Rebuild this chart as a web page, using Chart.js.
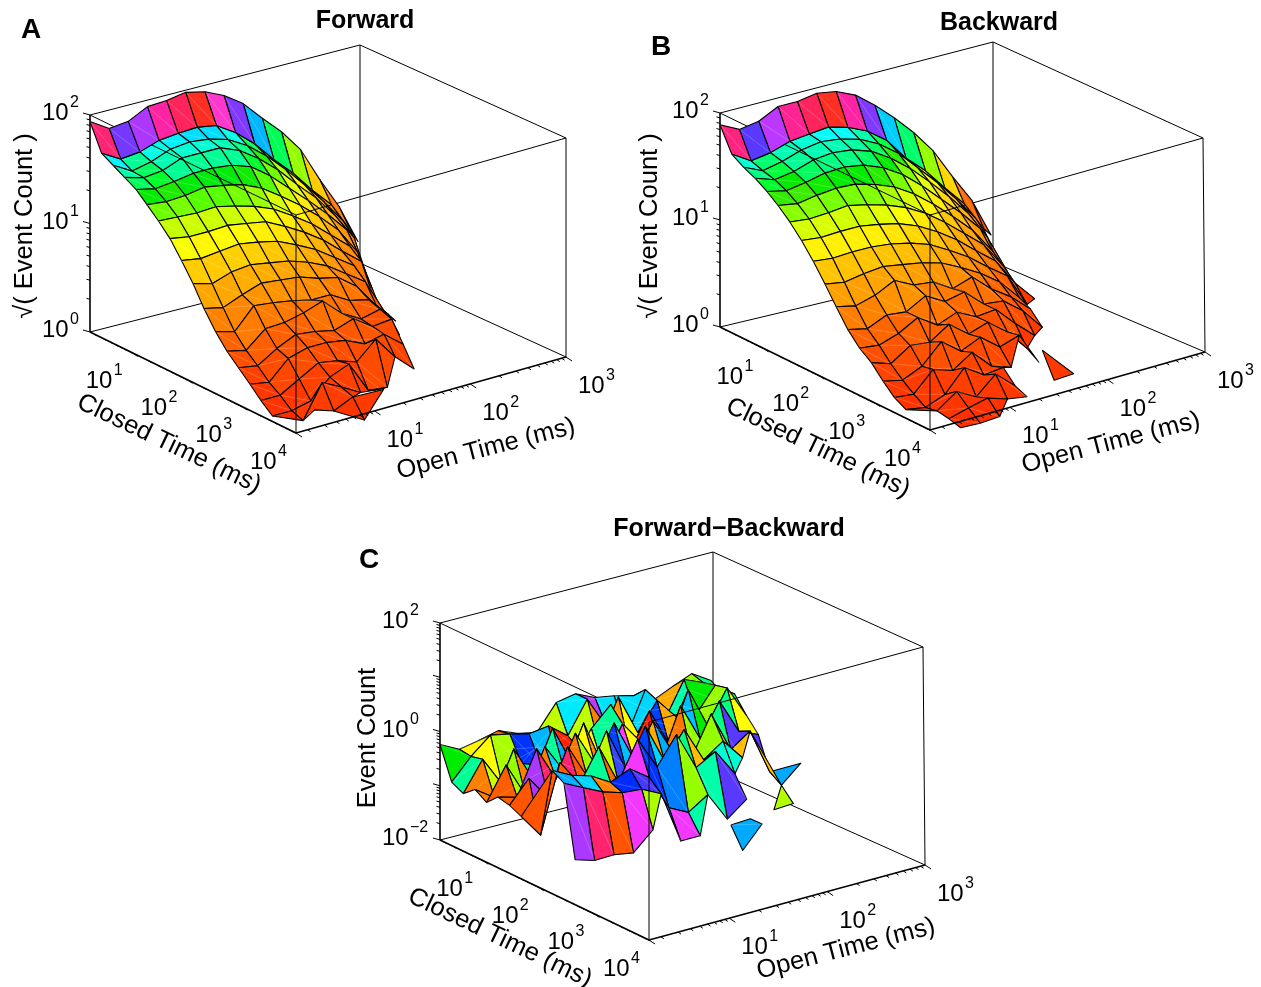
<!DOCTYPE html>
<html>
<head>
<meta charset="utf-8">
<style>
  html,body{margin:0;padding:0;background:#fff;}
  body{position:relative;width:1261px;height:987px;overflow:hidden;}
  canvas{position:absolute;}
</style>
<script src="https://cdn.jsdelivr.net/npm/chart.js@4"></script>
</head>
<body>
<canvas id="panelA" width="630" height="500" style="left:0;top:0"></canvas>
<canvas id="panelB" width="631" height="500" style="left:630px;top:0"></canvas>
<canvas id="panelC" width="700" height="487" style="left:340px;top:500px"></canvas>
<script>
// bin centres, log10 of ms
const closedBins = [.24,.45,.66,.87,1.08,1.28,1.49,1.70,1.91,2.12,2.32,2.53,2.74,2.95,3.16,3.36,3.57,3.78,3.99,4.20];
const openBins = [.18,.38,.58,.78,.98,1.18,1.38,1.58,1.78,1.98,2.18,2.38,2.58,2.78,2.98,3.18];
const n = null;

// log10 of sqrt(count), rows = closed bins, columns = open bins
const forwardValues = [
  [1.94,1.83,1.85,1.94,1.95,1.98,1.94,1.86,1.74,1.56,1.39,1.18,.86,.57,.20],
  [1.70,1.60,1.62,1.68,1.70,1.71,1.68,1.57,1.42,1.23,1.06,.86,.68,.40,n],
  [1.64,1.54,1.58,1.65,1.67,1.65,1.60,1.50,1.36,1.19,1.00,.80,.58,.14,n],
  [1.58,1.53,1.55,1.62,1.62,1.62,1.55,1.43,1.28,1.10,.93,.72,.47,n,n],
  [1.52,1.48,1.50,1.53,1.53,1.51,1.45,1.32,1.16,1.00,.83,.64,.20,n,n],
  [1.43,1.41,1.42,1.45,1.42,1.38,1.30,1.18,1.05,.90,.73,.48,n,n,n],
  [1.33,1.32,1.31,1.32,1.28,1.23,1.16,1.05,.93,.78,.63,.20,n,n,n],
  [1.22,1.19,1.19,1.20,1.17,1.14,1.05,.95,.83,.68,.54,.05,n,n,n],
  [1.07,1.04,1.06,1.08,1.05,1.01,.93,.84,.72,.60,.27,n,n,n,n],
  [.91,.86,.92,.94,.91,.88,.82,.74,.62,.50,.18,n,n,n,n],
  [.73,.69,.76,.82,.80,.78,.72,.68,.55,.33,.14,n,n,n,n],
  [.57,.52,.71,.69,.66,.62,.62,.52,.48,.30,n,n,n,n,n],
  [.44,.40,.55,.56,.60,.66,.50,.40,.44,.16,n,n,n,n,n],
  [.34,.31,.42,.50,.48,.44,.50,.38,.40,n,n,n,n,n,n],
  [.24,.21,.38,.43,.43,.40,.32,.36,.22,n,n,n,n,n,n],
  [.14,.14,.24,.34,.31,.25,.41,.20,.04,n,n,n,n,n,n],
  [.05,.05,.09,.26,.33,.04,.02,n,n,n,n,n,n,n,n],
  [n,.01,.31,.22,.12,.10,n,n,n,n,n,n,n,n,n],
  [n,.16,.10,.18,n,n,n,n,n,n,n,n,n,n,n],
  [n,n,n,.02,.25,n,n,n,n,n,n,n,n,n,n]
];
const backwardValues = [
  [1.89,1.80,1.83,1.92,1.92,1.95,1.92,1.84,1.70,1.54,1.36,1.15,.87,.61,.25],
  [1.67,1.56,1.59,1.65,1.67,1.69,1.64,1.56,1.43,1.22,1.06,.86,.67,.40,n],
  [1.60,1.52,1.56,1.62,1.65,1.63,1.58,1.49,1.36,1.18,1.00,.80,.58,.20,n],
  [1.55,1.49,1.52,1.58,1.60,1.58,1.52,1.41,1.27,1.10,.92,.72,.45,.10,n],
  [1.48,1.44,1.47,1.51,1.52,1.49,1.42,1.31,1.16,.99,.82,.63,.22,n,n],
  [1.40,1.37,1.40,1.42,1.41,1.36,1.29,1.18,1.04,.88,.71,.48,.18,n,n],
  [1.30,1.28,1.29,1.31,1.27,1.22,1.15,1.05,.92,.77,.62,.38,.03,n,n],
  [1.18,1.16,1.17,1.17,1.14,1.10,1.03,.93,.81,.66,.52,.27,.08,n,n],
  [1.04,1.02,1.03,1.03,1.01,.97,.91,.81,.70,.56,.43,.12,n,n,n],
  [.88,.85,.88,.90,.87,.84,.79,.70,.60,.47,.28,n,n,n,n],
  [.72,.68,.73,.82,.73,.71,.60,.66,.50,.38,.22,n,n,n,n],
  [.56,.52,.60,.58,.68,.58,.62,.46,.44,.30,.10,n,n,n,n],
  [.44,.42,.48,.58,.46,.53,.44,.46,.28,.12,n,n,n,n,n],
  [.36,.30,.42,.40,.52,.38,.44,.30,.10,n,n,n,n,n,n],
  [.24,.20,.28,.46,.32,.40,.26,.32,.02,n,n,n,n,n,n],
  [.14,.12,.30,.24,.36,.18,.12,n,n,n,n,n,n,n,n],
  [.08,.05,.12,.32,.20,.22,n,.28,n,n,n,n,n,n,n],
  [n,.07,.20,.10,.26,.10,n,.05,.06,n,n,n,n,n,n],
  [n,.05,.10,.14,.08,.05,n,n,n,n,n,n,n,n,n],
  [n,.02,.01,.02,n,n,n,n,n,n,n,n,n,n,n]
];
const differenceValues = [
  [-.24,-.42,-.35,-.26,-.40,-.48,-.02,.05,-.11,-.17,-.26,-.44,-.28,-.13,-.35],
  [-.83,-.45,-.15,-.22,-.31,-.26,-.53,.05,-.55,-.85,-.05,-.70,-.05,-.20,-.50],
  [-.94,-.40,-.95,-.66,-.79,-1.06,-.70,-.70,.10,-.65,-.15,-.55,-.60,-.15,-.40],
  [-.76,-1.0,-.20,-.85,.00,-.75,-.20,.15,-.80,-.15,-.85,.05,-.70,-.10,-.70],
  [-.90,-.30,-.95,-.15,-.70,.10,-.80,-.10,-.55,-.95,-.05,-.75,-.15,-.80,-.95],
  [-.70,-.80,.00,-.65,.10,-.55,.10,-.65,-.05,-.70,-.90,-.20,-.95,-.70,-1.54],
  [-.75,-.35,-.80,.05,-.60,.15,-.65,.05,-.70,-.20,-.85,-.60,-1.0,n,-1.69,-1.38],
  [-.85,-1.29,-.05,-.55,.05,-.70,.00,-.60,-.10,-.80,-.60,-1.1,n,-1.95,-1.93],
  [n,.0,-.18,-.29,-.50,-.35,-.60,-1.25,-1.43,-1.2,-1.74,-1.47,n,n,n],
  [n,-.13,-.31,-.48,-.59,-.62,-.80,-1.76,-1.76,n,n,n,n,n,n],
  [n,-1.44,-1.55,-1.54,-1.6,-1.27,n,n,n,-1.56,-1.54,n,n,n,n],
  [n,n,n,n,n,n,n,n,n,-1.93,-1.54,n,n,n,n]
];

// fill hues read off the picture where height alone does not give the colour
const forwardRidgeHues = [338,258,275,325,345,3,315,262,197,140,85,48,28,20];
const backwardRidgeHues = [335,250,280,330,345,3,325,262,192,145,85,50,25,18];
const differenceHues = [
  [120,58,22,85,120,75,185,280,187,187,28,40,85,150],
  [155,60,80,228,197,8,75,30,230,190,24,160,120,80],
  [30,72,80,155,30,8,70,35,60,225,40,195,85,150],
  [30,85,30,155,200,60,155,32,8,240,195,120,150,60],
  [22,80,30,190,60,32,300,60,240,28,85,150,250,250],
  [22,275,340,28,85,225,195,40,200,150,85,45,45,45,200],
  [20,275,340,20,75,235,225,190,150,45,170,170,200,78],
  [20,22,16,155,24,296,228,210,85,160,250,45,78,78],
  [20,200,190,30,230,245,210,296,160,120,45,45,45,45],
  [20,275,340,20,296,80,210,80,80,80,80,80,80,80],
  [20,20,20,20,20,20,20,20,20,200,200,20,20,20]
];

const closedTicks = [1,2,3,4];
const openTicks = [1,2,3];
const heightHueStops = [[0,10],[.3,14],[.6,24],[.85,36],[1.07,48],[1.19,58],[1.32,72],[1.41,90],[1.5,112],[1.55,130],[1.6,150],[1.66,165],[1.71,188],[1.76,200]];

function hueForHeight(z){
  for(let k=1;k<heightHueStops.length;k++){
    const a=heightHueStops[k-1], b=heightHueStops[k];
    if(z<=b[0]) return a[1]+(b[1]-a[1])*Math.max(0,z-a[0])/(b[0]-a[0]);
  }
  return 200;
}
function hueColor(h){
  let l=50;
  if(h>=235) l=61;
  if(h>=320||h<8) l=57;
  if(h>=100&&h<130) l=46;
  return `hsl(${h},100%,${l}%)`;
}

function makePanel(id,cfg){
  const canvas=document.getElementById(id);
  const left=parseInt(canvas.style.left)||0, top=parseInt(canvas.style.top)||0;
  const openMin=.18, openMax=3, closedMin=.24, closedMax=4;
  const c=cfg.corners;
  const mix=(a,b,t)=>a+(b-a)*t;
  function project(open,closed,z){
    const u=(open-openMin)/(openMax-openMin), v=(closed-closedMin)/(closedMax-closedMin), w=(z-cfg.zMin)/(cfg.zMax-cfg.zMin);
    const at=k=>mix(
      mix(mix(c.left[k],c.back[k],u),mix(c.front[k],c.right[k],u),v),
      mix(mix(c.leftTop[k],c.backTop[k],u),mix(c.frontTop[k],c.rightTop[k],u),v),w);
    return {x:at('x'),y:at('y')};
  }
  const line=(pts,width,color='#000')=>({data:pts,showLine:true,fill:false,pointRadius:0,borderColor:color,borderWidth:width,borderJoinStyle:'round'});
  const edge=(a,b,width)=>line([{x:a.x,y:a.y},{x:b.x,y:b.y}],width);

  function quad(i,j){
    const v=cfg.values, corners=[[i,j],[i,j+1],[i+1,j+1],[i+1,j]].filter(p=>v[p[0]]&&v[p[0]][p[1]]!==n&&v[p[0]][p[1]]!==undefined);
    if(corners.length<3) return [];
    const pts=corners.map(p=>project(openBins[p[1]],closedBins[p[0]],v[p[0]][p[1]]));
    const top=Math.max(...corners.map(p=>v[p[0]][p[1]]));
    let hue=hueForHeight(top);
    if(cfg.hues) hue=cfg.hues[i][j];
    if(cfg.ridgeHues&&i===0) hue=cfg.ridgeHues[j];
    if(hue===undefined) return [];
    const closed=pts.concat([pts[0]]);
    const out=[{data:closed,showLine:true,fill:'shape',backgroundColor:hueColor(hue),pointRadius:0,borderColor:'#000',borderWidth:1.1,borderJoinStyle:'round'}];
    if(pts.length===4) out.push(line([pts[0],pts[2]],.6,'rgba(255,255,255,.35)'));
    return out;
  }

  // paint order, far side first
  const paint=[];
  paint.push(edge(c.leftTop,c.backTop,1),edge(c.backTop,c.rightTop,1),edge(c.left,c.back,1),edge(c.back,c.right,1),edge(c.back,c.backTop,1),edge(c.right,c.rightTop,1));
  if(!cfg.ridgeHues) paint.push(edge(c.leftTop,c.frontTop,1));
  const rows=cfg.values.length-1, cols=openBins.length-1;
  const firstRow=cfg.ridgeHues?1:0;
  for(let i=firstRow;i<rows;i++) for(let j=cols-1;j>=0;j--) paint.push(...quad(i,j));
  if(cfg.ridgeHues) paint.push(edge(c.leftTop,c.frontTop,1));
  paint.push(edge(c.frontTop,c.rightTop,1),edge(c.front,c.frontTop,1));
  paint.push(edge(c.left,c.leftTop,1.6),edge(c.left,c.front,1.6),edge(c.front,c.right,1.6));

  // axis ticks
  const ticks=[];
  const seg=(p,dx,dy)=>ticks.push({x:p.x,y:p.y},{x:p.x+dx,y:p.y+dy},{x:NaN,y:NaN});
  const minor=[2,3,4,5,6,7,8,9].map(m=>Math.log10(m));
  for(let d=0;d<=4;d++){
    const majorClosed=project(openMin,d,cfg.zMin);
    if(d>0) seg(majorClosed,6,4);
    minor.forEach(m=>{ if(d+m>closedMin&&d+m<closedMax) seg(project(openMin,d+m,cfg.zMin),3,2); });
  }
  for(let d=0;d<=3;d++){
    if(d>0) seg(project(d,closedMax,cfg.zMin),6,4);
    minor.forEach(m=>{ if(d+m>openMin&&d+m<openMax) seg(project(d+m,closedMax,cfg.zMin),3,2); });
  }
  for(let d=cfg.zMin;d<=cfg.zMax;d++){
    seg(project(openMin,closedMin,d),-7,-2);
    if(d<cfg.zMax) minor.forEach(m=>seg(project(openMin,closedMin,d+m),-3.5,-1));
  }
  paint.push(line(ticks,1));
  if(cfg.ridgeHues) for(let j=cols-1;j>=0;j--) paint.push(...quad(0,j));

  const textPlugin={
    id:'panelText',
    afterDraw(chart){
      const ctx=chart.ctx, sx=chart.scales.x, sy=chart.scales.y;
      const px=p=>({x:sx.getPixelForValue(p.x),y:sy.getPixelForValue(p.y)});
      const power=(p,dx,dy,exp)=>{
        const a=px(p);
        ctx.textAlign='left'; ctx.textBaseline='alphabetic';
        ctx.font='24px "Liberation Sans"'; ctx.fillText('10',a.x+dx,a.y+dy);
        ctx.font='16px "Liberation Sans"'; ctx.fillText(exp,a.x+dx+28,a.y+dy-13);
      };
      const rotated=(t,p,deg,size,weight='')=>{
        const a=px(p);
        ctx.save(); ctx.translate(a.x,a.y); ctx.rotate(deg*Math.PI/180);
        ctx.font=`${weight} ${size}px "Liberation Sans"`; ctx.textAlign='center'; ctx.textBaseline='middle';
        ctx.fillText(t,0,0); ctx.restore();
      };
      ctx.save(); ctx.fillStyle='#000';
      closedTicks.forEach(t=>power(project(openMin,t,cfg.zMin),-46,36,String(t)));
      openTicks.forEach(t=>power(project(t,closedMax,cfg.zMin),12,36,String(t)));
      cfg.zTicks.forEach(t=>power(project(openMin,closedMin,t),cfg.zLabelX,5,String(t).replace('-','\u2212')));
      rotated(cfg.zTitle,cfg.zTitlePos,-90,25.5);
      rotated('Closed Time (ms)',cfg.closedTitlePos,25.5,25.5);
      rotated('Open Time (ms)',cfg.openTitlePos,-14.5,25.5);
      rotated(cfg.title,cfg.titlePos,0,25,'bold');
      rotated(cfg.letter,cfg.letterPos,0,28,'bold');
      ctx.restore();
    }
  };

  return new Chart(canvas,{
    type:'scatter',
    data:{datasets:paint.reverse()},
    plugins:[textPlugin],
    options:{
      responsive:false,animation:false,events:[],
      layout:{padding:0},
      scales:{
        x:{type:'linear',display:false,min:left,max:left+canvas.width},
        y:{type:'linear',display:false,reverse:true,min:top,max:top+canvas.height}
      },
      plugins:{legend:{display:false},tooltip:{enabled:false},filler:{drawTime:'beforeDatasetDraw'}}
    }
  });
}

makePanel('panelA',{
  values:forwardValues,ridgeHues:forwardRidgeHues,zMin:0,zMax:2,zTicks:[0,1,2],zLabelX:-48,
  corners:{left:{x:90,y:332},back:{x:360,y:263},front:{x:296,y:433},right:{x:566,y:357},
    leftTop:{x:90,y:115},backTop:{x:360,y:45},frontTop:{x:296,y:215},rightTop:{x:566,y:138}},
  zTitle:'\u221A( Event Count )',zTitlePos:{x:25,y:226},closedTitlePos:{x:169,y:444},openTitlePos:{x:486,y:449},
  title:'Forward',titlePos:{x:365,y:21},letter:'A',letterPos:{x:31,y:30}
});
makePanel('panelB',{
  values:backwardValues,ridgeHues:backwardRidgeHues,zMin:0,zMax:2,zTicks:[0,1,2],zLabelX:-48,
  corners:{left:{x:720,y:327},back:{x:993,y:262},front:{x:930,y:430},right:{x:1205,y:352},
    leftTop:{x:720,y:113},backTop:{x:993,y:42},frontTop:{x:930,y:215},rightTop:{x:1203,y:138}},
  zTitle:'\u221A( Event Count )',zTitlePos:{x:650,y:226},closedTitlePos:{x:818,y:448},openTitlePos:{x:1111,y:443},
  title:'Backward',titlePos:{x:999,y:23},letter:'B',letterPos:{x:661,y:47}
});
makePanel('panelC',{
  values:differenceValues,hues:differenceHues,zMin:-2,zMax:2,zTicks:[-2,0,2],zLabelX:-58,
  corners:{left:{x:440,y:840},back:{x:713,y:770},front:{x:649,y:940},right:{x:925,y:865},
    leftTop:{x:440,y:623},backTop:{x:713,y:552},frontTop:{x:649,y:722},rightTop:{x:923,y:647}},
  zTitle:'Event Count',zTitlePos:{x:368,y:738},closedTitlePos:{x:500,y:938},openTitlePos:{x:846,y:949},
  title:'Forward\u2212Backward',titlePos:{x:729,y:529},letter:'C',letterPos:{x:369,y:560}
});
</script>
</body>
</html>
